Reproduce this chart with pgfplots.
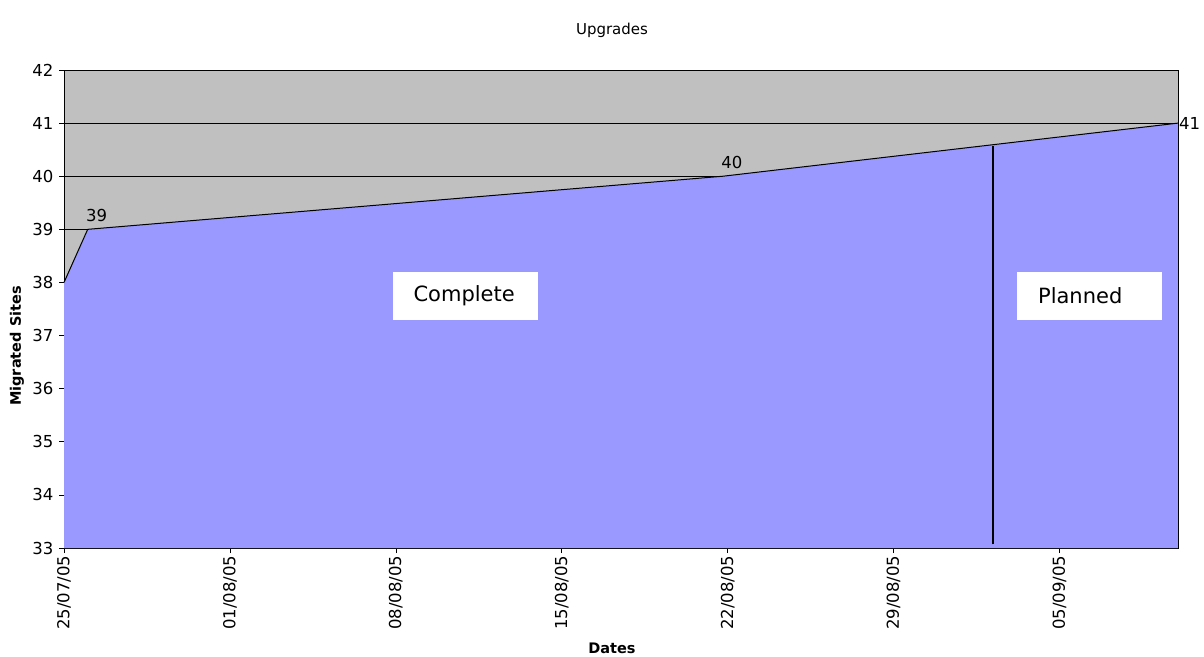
\documentclass[border=0pt]{standalone}
\usepackage{pgfplots}
\pgfplotsset{compat=1.18}
\usepackage{fontspec}
\setmainfont{DejaVu Sans}
\definecolor{plotgray}{HTML}{C0C0C0}
\definecolor{areablue}{HTML}{9999FF}
\begin{document}
\begin{tikzpicture}[x=1pt,y=1pt]
\useasboundingbox (0,0) rectangle (1204,656);
\begin{axis}[
    at={(64pt,108pt)}, anchor=south west,
    scale only axis,
    width=1114pt, height=478pt,
    xmin=0, xmax=47, ymin=33, ymax=42,
    clip=false,
    axis background/.style={fill=plotgray},
    axis line style={black, line width=0.8pt},
    ymajorgrids, major grid style={black, line width=0.6pt},
    xtick={0,7,14,21,28,35,42},
    xticklabels={25/07/05,01/08/05,08/08/05,15/08/05,22/08/05,29/08/05,05/09/05},
    ytick={33,34,...,42},
    tick align=outside, tick pos=left,
    major tick length=5pt,
    tick style={black, line width=0.6pt},
    /pgf/number format/assume math mode=true,
    ticklabel style={font=\fontsize{16.5}{19}\selectfont},
    xticklabel style={rotate=90, anchor=east, xshift=1pt},
    yticklabel style={xshift=-2pt},
]
% filled area of migrated sites
\addplot[fill=areablue, draw=none] coordinates {
    (0,33) (0,38) (1,39) (27.8,40) (47,41) (47,33)} -- cycle;
% outline of the series
\addplot[black, line width=1pt] coordinates {
    (0,38) (1,39) (27.8,40) (47,41)};
% value labels
\addplot[draw=none, nodes near coords, point meta=explicit symbolic,
    every node near coord/.style={anchor=south, xshift=9pt, yshift=5pt,
        inner sep=2pt, font=\fontsize{16.5}{19}\selectfont}]
    coordinates {(1,39) [39] (27.8,40) [40]};
\addplot[draw=none, nodes near coords, point meta=explicit symbolic,
    every node near coord/.style={anchor=west, inner sep=1pt,
        font=\fontsize{16.5}{19}\selectfont}]
    coordinates {(47,41) [41]};
% divider between complete and planned
\addplot[black, line width=1.5pt] coordinates {(39.2,33.07) (39.2,40.56)};
% annotation boxes
\fill[white] (axis cs:13.88,37.29) rectangle (axis cs:20.0,38.2);
\node[anchor=west, font=\fontsize{21}{25}\selectfont] at (axis cs:14.6,37.745) {Complete};
\fill[white] (axis cs:40.21,37.29) rectangle (axis cs:46.33,38.2);
\node[anchor=west, font=\fontsize{21}{25}\selectfont] at (axis cs:40.95,37.745) {Planned};
\end{axis}
\node[font=\fontsize{15}{18}\selectfont] at (612,626) {Upgrades};
\node[font=\bfseries\fontsize{14.5}{17}\selectfont] at (612,8) {Dates};
\node[font=\bfseries\fontsize{14.5}{17}\selectfont, rotate=90] at (17,310) {Migrated Sites};
\end{tikzpicture}
\end{document}
